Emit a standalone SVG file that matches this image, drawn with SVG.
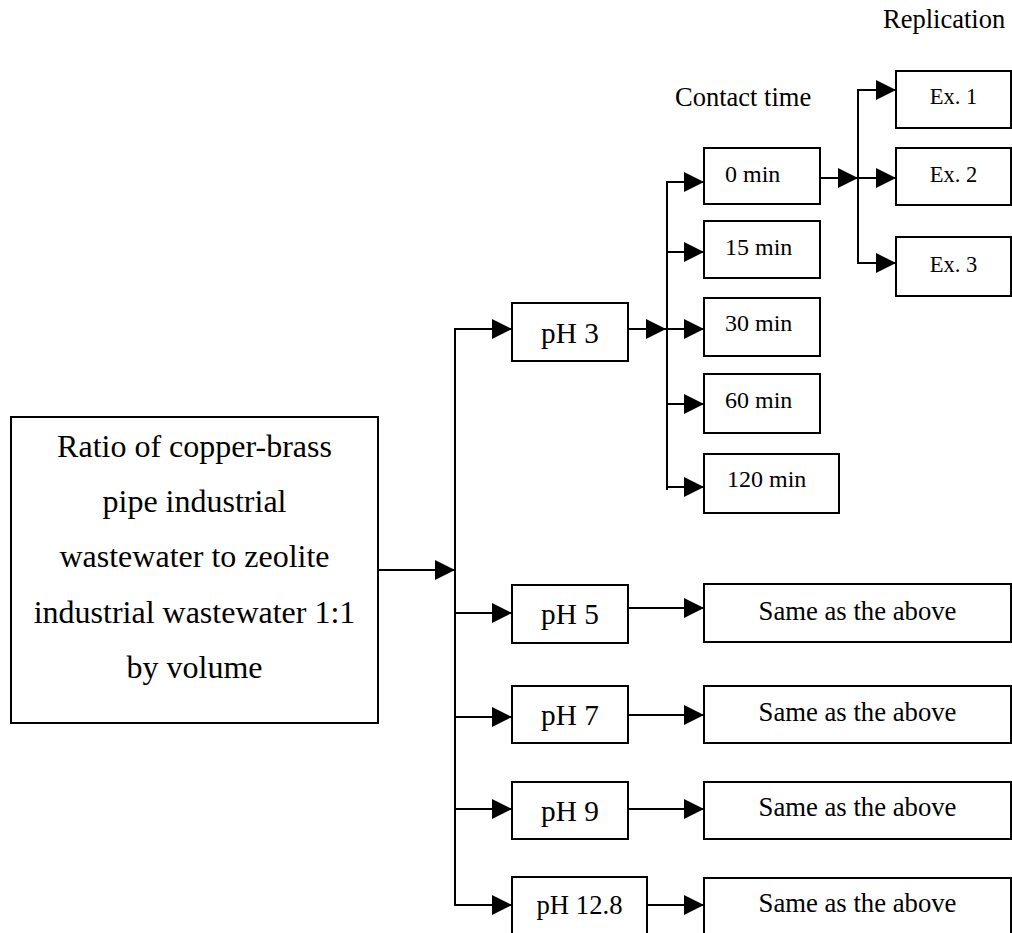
<svg xmlns="http://www.w3.org/2000/svg" width="1012" height="933" viewBox="0 0 1012 933">
<style>
.box{fill:#fff;stroke:#000;stroke-width:2}
.ln{fill:none;stroke:#000;stroke-width:2}
.ar{marker-end:url(#arr)}
text{font-family:"Liberation Serif","Times New Roman",serif;fill:#000}
.big{font-size:32px;text-anchor:middle}
.ph{font-size:29.3px;text-anchor:middle}
.ph2{font-size:26.7px;text-anchor:middle}
.same{font-size:26.7px;text-anchor:middle}
.min{font-size:24px}
.ex{font-size:22.5px;text-anchor:middle}
.hdr{font-size:26.5px}
</style>
<defs>
<marker id="arr" markerUnits="userSpaceOnUse" markerWidth="22" markerHeight="22" refX="20" refY="10" orient="auto">
<path d="M0,0 L20,10 L0,20 z" fill="#000"/>
</marker>
</defs>
<g id="labels">
<text class="hdr" x="883" y="28">Replication</text>
<text class="hdr" x="675" y="106">Contact time</text>
</g>
<g id="connectors">
<line class="ln ar" x1="378" y1="570" x2="455" y2="570"/>
<line class="ln" x1="455" y1="328" x2="455" y2="906"/>
<line class="ln ar" x1="455" y1="329" x2="512" y2="329"/>
<line class="ln ar" x1="455" y1="613" x2="512" y2="613"/>
<line class="ln ar" x1="455" y1="717" x2="512" y2="717"/>
<line class="ln ar" x1="455" y1="809" x2="512" y2="809"/>
<line class="ln ar" x1="455" y1="905" x2="512" y2="905"/>
<line class="ln ar" x1="628" y1="608" x2="704" y2="608"/>
<line class="ln ar" x1="628" y1="715" x2="704" y2="715"/>
<line class="ln ar" x1="628" y1="809" x2="704" y2="809"/>
<line class="ln ar" x1="647" y1="905" x2="704" y2="905"/>
<line class="ln ar" x1="628" y1="329" x2="666" y2="329"/>
<line class="ln" x1="667" y1="181" x2="667" y2="490"/>
<line class="ln ar" x1="667" y1="182" x2="704" y2="182"/>
<line class="ln ar" x1="667" y1="252" x2="704" y2="252"/>
<line class="ln ar" x1="667" y1="329" x2="704" y2="329"/>
<line class="ln ar" x1="667" y1="404" x2="704" y2="404"/>
<line class="ln ar" x1="667" y1="487" x2="704" y2="487"/>
<line class="ln ar" x1="820" y1="178" x2="858" y2="178"/>
<line class="ln" x1="858" y1="89" x2="858" y2="264"/>
<line class="ln ar" x1="858" y1="90" x2="896" y2="90"/>
<line class="ln ar" x1="858" y1="178" x2="896" y2="178"/>
<line class="ln ar" x1="858" y1="263" x2="896" y2="263"/>
</g>
<g id="source">
<rect class="box" x="11" y="417" width="367" height="306"/>
<text class="big" x="194.5" y="457">Ratio of copper-brass</text>
<text class="big" x="194.5" y="512">pipe industrial</text>
<text class="big" x="194.5" y="567">wastewater to zeolite</text>
<text class="big" x="194.5" y="623">industrial wastewater 1:1</text>
<text class="big" x="194.5" y="678">by volume</text>
</g>
<g id="ph3"><rect class="box" x="512" y="303" width="116" height="58"/><text class="ph" x="570" y="343">pH 3</text></g>
<g id="ph5"><rect class="box" x="512" y="585" width="116" height="58"/><text class="ph" x="570" y="624">pH 5</text></g>
<g id="ph7"><rect class="box" x="512" y="686" width="116" height="57"/><text class="ph" x="570" y="725">pH 7</text></g>
<g id="ph9"><rect class="box" x="512" y="782" width="116" height="57"/><text class="ph" x="570" y="821">pH 9</text></g>
<g id="ph128"><rect class="box" x="512" y="877" width="135" height="70"/><text class="ph2" x="579.5" y="914">pH 12.8</text></g>
<g id="same5"><rect class="box" x="704" y="584" width="307" height="58"/><text class="same" x="857.5" y="620">Same as the above</text></g>
<g id="same7"><rect class="box" x="704" y="686" width="307" height="57"/><text class="same" x="857.5" y="721">Same as the above</text></g>
<g id="same9"><rect class="box" x="704" y="782" width="307" height="57"/><text class="same" x="857.5" y="816">Same as the above</text></g>
<g id="same128"><rect class="box" x="704" y="878" width="307" height="70"/><text class="same" x="857.5" y="912">Same as the above</text></g>
<g id="t0"><rect class="box" x="704" y="148" width="116" height="56"/><text class="min" x="725" y="182">0 min</text></g>
<g id="t15"><rect class="box" x="704" y="221" width="116" height="57"/><text class="min" x="725" y="255">15 min</text></g>
<g id="t30"><rect class="box" x="704" y="298" width="116" height="58"/><text class="min" x="725" y="331">30 min</text></g>
<g id="t60"><rect class="box" x="704" y="374" width="116" height="59"/><text class="min" x="725" y="408">60 min</text></g>
<g id="t120"><rect class="box" x="704" y="454" width="135" height="59"/><text class="min" x="727" y="487">120 min</text></g>
<g id="ex1"><rect class="box" x="896" y="71" width="115" height="57"/><text class="ex" x="953.5" y="104">Ex. 1</text></g>
<g id="ex2"><rect class="box" x="896" y="148" width="115" height="57"/><text class="ex" x="953.5" y="182">Ex. 2</text></g>
<g id="ex3"><rect class="box" x="896" y="237" width="115" height="59"/><text class="ex" x="953.5" y="272">Ex. 3</text></g>
</svg>
